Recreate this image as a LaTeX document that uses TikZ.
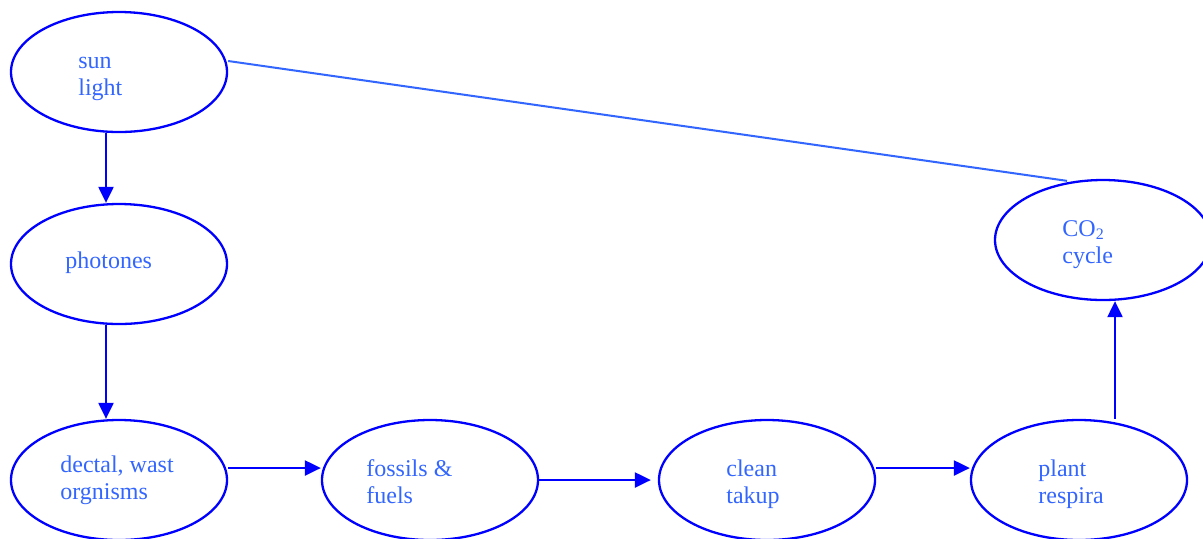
\documentclass[tikz,border=0pt]{standalone}
\usepackage{fontspec}
\setmainfont{Liberation Serif}
\usetikzlibrary{arrows.meta, shapes.geometric}
\definecolor{cyclblue}{RGB}{0,0,255}
\definecolor{textblue}{RGB}{51,102,255}

\begin{document}
\begin{tikzpicture}[
  x=0.5pt, y=-0.5pt,
  blob/.style={draw=cyclblue, ellipse, line width=1.15pt, inner sep=0pt,
               minimum width=108pt, minimum height=60pt},
  lbl/.style={anchor=base west, align=left, inner sep=0pt, text=textblue,
              font=\fontsize{12}{13.5}\selectfont},
  arr/.style={-{Triangle[length=8pt,width=7.5pt]}, draw=cyclblue, line width=1.1pt}
]
\useasboundingbox (0,0) rectangle (1203,538);

\node[blob] (sun) at (119,72) {};
\node[blob] (pho) at (119,264) {};
\node[blob] (dec) at (119,480) {};
\node[blob] (fos) at (430,480) {};
\node[blob] (cln) at (767,480) {};
\node[blob] (plt) at (1079,480) {};
\node[blob] (co2) at (1103,240) {};

% texts (base = last line)
\node[lbl] (sun-t) at (78,95) {sun\\light};
\node[lbl] (pho-t) at (65,268) {photones};
\node[lbl] (dec-t) at (60,499) {dectal, wast\\orgnisms};
\node[lbl] (fos-t) at (366,503) {fossils \&\\fuels};
\node[lbl] (cln-t) at (726,503) {clean\\takup};
\node[lbl] (plt-t) at (1038,503) {plant\\respira};
\node[lbl] (co2-t) at (1062,263) {CO\textsubscript{2}\\cycle};

\draw[arr] ([xshift=-6.5pt]sun.south) -- ([xshift=-6.5pt]pho.north);
\draw[arr] ([xshift=-6.5pt]pho.south) -- ([xshift=-6.5pt]dec.north);
\draw[arr] ([yshift=6pt]dec.east) -- ([yshift=6pt]fos.west);
\draw[arr] (fos.east) -- ([xshift=-3.5pt]cln.west);
\draw[arr] ([yshift=6pt]cln.east) -- ([yshift=6pt]plt.west);
\draw[arr] ([xshift=18pt]plt.north) -- ([xshift=6pt]co2.south);
\draw[textblue, line width=1pt] ([yshift=5.5pt]sun.east) -- ([xshift=-18pt,yshift=-1pt]co2.north);

\end{tikzpicture}
\end{document}
